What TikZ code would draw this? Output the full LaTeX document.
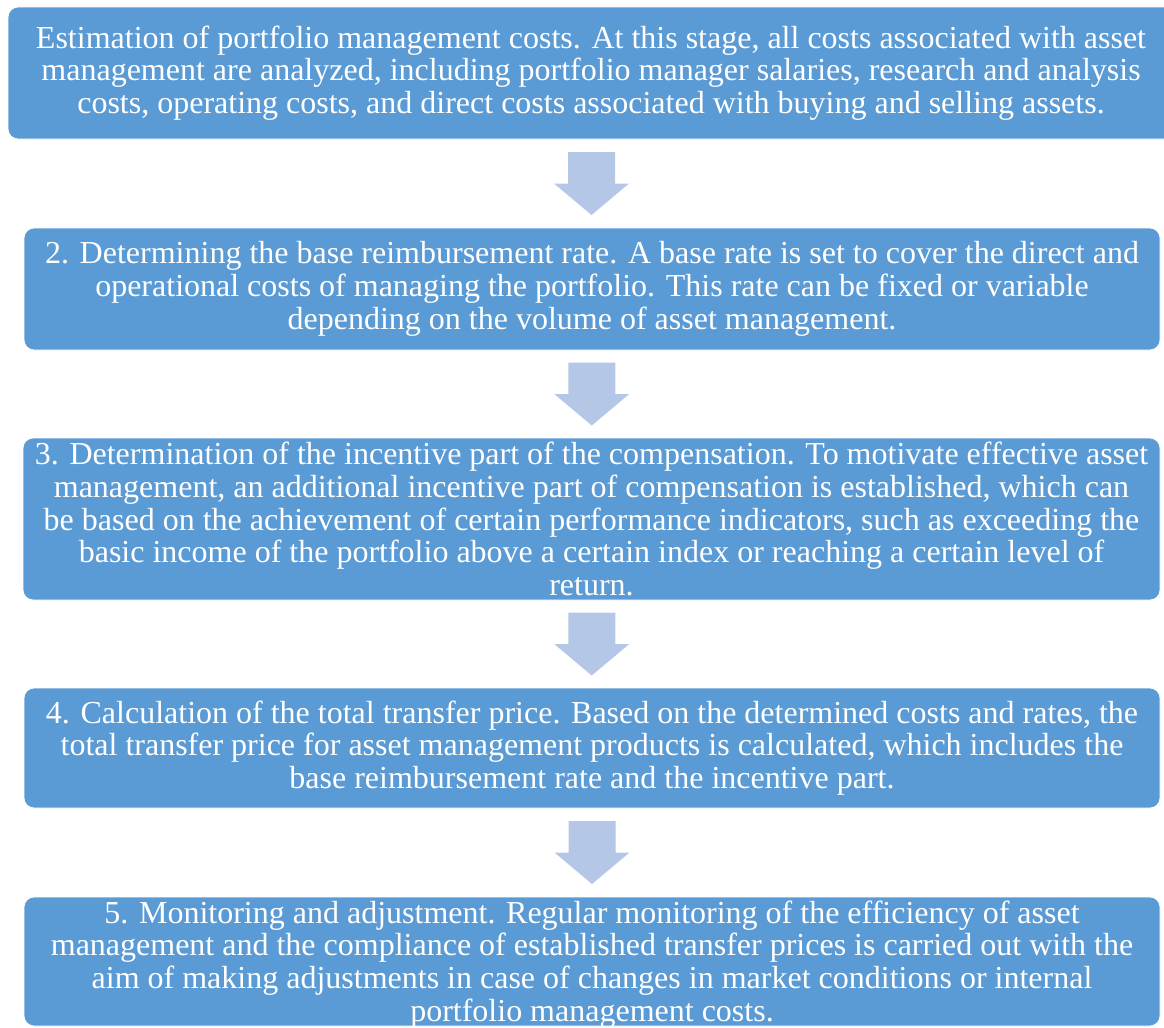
\documentclass[tikz,border=0pt]{standalone}
\usepackage{fontspec}
\setmainfont{Liberation Serif}
\usetikzlibrary{calc}
\definecolor{boxblue}{HTML}{5B9BD5}
\definecolor{arrowblue}{HTML}{B4C7E7}
\tikzset{
  box/.style={fill=boxblue, draw=white, line width=0.6pt, rounded corners=7.5pt, inner sep=0pt},
  txt/.style={text=white, align=center, font=\fontsize{24}{24.6}\selectfont, inner sep=0pt},
  barrow/.style={fill=arrowblue}
}
\newcommand{\blockarrow}[1]{%
  \fill[barrow] ($(#1)+(-23.5,-31.5)$) -- ($(#1)+(23.5,-31.5)$) -- ($(#1)+(23.5,0)$) -- ($(#1)+(37.5,0)$)
    -- ($(#1)+(0,31.5)$) -- ($(#1)+(-37.5,0)$) -- ($(#1)+(-23.5,0)$) -- cycle;}
\begin{document}
\begin{tikzpicture}[x=0.75pt,y=-0.75pt]
\useasboundingbox (0,0) rectangle (1164,1028);
\clip (0,0) rectangle (1164,1028);
\node[box, minimum width=1166*0.75pt, minimum height=132*0.75pt] (b1) at (591,73) {};
\node[box, minimum width=1136*0.75pt, minimum height=122*0.75pt] (b2) at (592,289) {};
\node[box, minimum width=1137*0.75pt, minimum height=162*0.75pt] (b3) at (591.5,519) {};
\node[box, minimum width=1136*0.75pt, minimum height=120*0.75pt] (b4) at (592,748) {};
\node[box, minimum width=1136*0.75pt, minimum height=129*0.75pt] (b5) at (592,961.5) {};
\node[txt] (t1) at (b1.center) {Estimation of portfolio management costs. At this stage, all costs associated with asset\\ management are analyzed, including portfolio manager salaries, research and analysis\\ costs, operating costs, and direct costs associated with buying and selling assets.};
\node[txt] (t2) at (b2.center) {2. Determining the base reimbursement rate. A base rate is set to cover the direct and\\ operational costs of managing the portfolio. This rate can be fixed or variable\\ depending on the volume of asset management.};
\node[txt] (t3) at (b3.center) {3. Determination of the incentive part of the compensation. To motivate effective asset\\ management, an additional incentive part of compensation is established, which can\\ be based on the achievement of certain performance indicators, such as exceeding the\\ basic income of the portfolio above a certain index or reaching a certain level of\\ return.};
\node[txt] (t4) at (b4.center) {4. Calculation of the total transfer price. Based on the determined costs and rates, the\\ total transfer price for asset management products is calculated, which includes the\\ base reimbursement rate and the incentive part.};
\node[txt] (t5) at ($(b5.center)+(0,3)$) {5. Monitoring and adjustment. Regular monitoring of the efficiency of asset\\ management and the compliance of established transfer prices is carried out with the\\ aim of making adjustments in case of changes in market conditions or internal\\ portfolio management costs.};
\coordinate (m1) at ($(b2.north)!0.5!(b1.south)$);
\coordinate (m2) at ($(b3.north)!0.5!(b2.south)$);
\coordinate (m3) at ($(b4.north)!0.5!(b3.south)$);
\coordinate (m4) at ($(b5.north)!0.5!(b4.south)$);
\blockarrow{m1}
\blockarrow{m2}
\blockarrow{m3}
\blockarrow{m4}
\end{tikzpicture}
\end{document}
